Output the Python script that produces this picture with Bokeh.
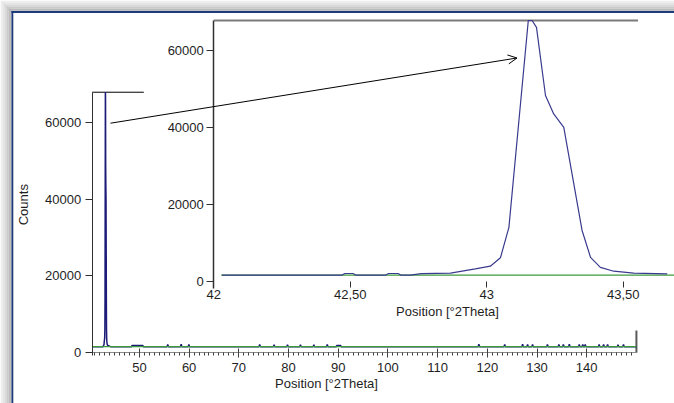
from bokeh.plotting import figure
from bokeh.models import Range1d, LinearAxis, FixedTicker, Label, Arrow, OpenHead
from bokeh.embed import file_html
from bokeh.resources import INLINE

# ---------------- data ----------------
MAIN_POS = [40.5, 42.72, 42.76, 42.87, 42.95, 43.013, 43.05, 43.081, 43.152, 43.166,
            43.182, 43.215, 43.245, 43.282, 43.349, 43.38, 43.416, 43.465, 43.538, 43.66,
            44.2, 48.4, 48.5, 50.7, 50.8,
            55.55, 55.7, 55.85, 58.25, 58.4, 58.55, 59.8, 59.95, 60.1,
            74.05, 74.2, 74.35, 76.95, 77.1, 77.25, 79.65, 79.8, 79.95,
            82.25, 82.4, 82.55, 84.95, 85.1, 85.25, 87.65, 87.8, 87.95,
            89.6, 89.7, 90.5, 90.6,
            118.15, 118.3, 118.45, 123.35, 123.5, 123.65, 126.95, 127.1, 127.25,
            127.95, 128.1, 128.25, 128.95, 129.1, 129.25, 131.95, 132.1, 132.25,
            134.25, 134.4, 134.55, 135.15, 135.3, 135.45, 136.35, 136.5, 136.65,
            138.35, 138.5, 138.65, 139.05, 139.2, 139.35, 139.55, 139.7, 139.85,
            142.35, 142.5, 142.65, 143.25, 143.4, 143.55, 144.05, 144.2, 144.35,
            146.15, 146.3, 146.45, 147.25, 147.4, 147.55, 150.0]
MAIN_COUNTS = [1600, 1600, 1950, 2050, 3200, 3900, 6100, 14000, 67800, 67600,
               66000, 48300, 43500, 40000, 13200, 6200, 3600, 2600, 2100, 1900,
               1600, 1600, 1900, 1900, 1600,
               1600, 2150, 1600, 1600, 2200, 1600, 1600, 2150, 1600,
               1600, 2150, 1600, 1600, 2100, 1600, 1600, 2100, 1600,
               1600, 2100, 1600, 1600, 2100, 1600, 1600, 2150, 1600,
               1600, 1900, 1900, 1600,
               1600, 2200, 1600, 1600, 2150, 1600, 1600, 2200, 1600,
               1600, 2150, 1600, 1600, 2150, 1600, 1600, 2150, 1600,
               1600, 2150, 1600, 1600, 2150, 1600, 1600, 2200, 1600,
               1600, 2150, 1600, 1600, 2150, 1600, 1600, 2150, 1600,
               1600, 2150, 1600, 1600, 2150, 1600, 1600, 2150, 1600,
               1600, 2100, 1600, 1600, 2150, 1600, 1600]

ZOOM_POS = [42.03, 42.47, 42.48, 42.51, 42.52, 42.63, 42.64, 42.675, 42.685,
            42.72, 42.76, 42.867, 42.958, 43.013, 43.05, 43.081, 43.152, 43.166,
            43.182, 43.215, 43.245, 43.282, 43.349, 43.38, 43.416, 43.465, 43.538, 43.661]
ZOOM_COUNTS = [1600, 1600, 2000, 2000, 1600, 1600, 2000, 2000, 1600,
               1600, 1950, 2080, 3200, 3900, 6100, 14000, 67800, 67800,
               66000, 48300, 43500, 40000, 13200, 6200, 3600, 2600, 2100, 1900]

BACKGROUND = 1600
PEAK_MAX = 67800
COUNT_TICKS = [0, 20000, 40000, 60000]
MAIN_TICKS = [50, 60, 70, 80, 90, 100, 110, 120, 130, 140]
MAIN_MINOR = list(range(41, 150))
MAIN_X_LIMITS = (40.5, 150.0)
ZOOM_TICKS = [42, 42.5, 43, 43.5]
ZOOM_TICK_LABELS = ["42", "42,50", "43", "43,50"]
ZOOM_LINE_START = 42.027
ZOOM_FRAME_END = 43.554
X_TITLE = "Position [°2Theta]"
Y_TITLE = "Counts"

# ---------------- layout calibration (pixels of the figure) ----------------
W, H = 674, 403
FONT = "Liberation Sans"
TXT = "#1e1e1e"


def xr(anchor_val, anchor_px, ppu):
    return Range1d(anchor_val - anchor_px / ppu, anchor_val + (W - anchor_px) / ppu)


def yr(anchor_val, anchor_px, ppu):
    return Range1d(anchor_val - (H - anchor_px) / ppu, anchor_val + anchor_px / ppu)


p = figure(width=W, height=H, output_backend="svg", toolbar_location=None,
           x_axis_type=None, y_axis_type=None, title=None,
           x_range=xr(MAIN_X_LIMITS[0], 91.7, 4.97),
           y_range=yr(0, 352.3, 0.0038433))
p.extra_x_ranges = {"ix": xr(42, 213.3, 273.0), "px": Range1d(0, W)}
p.extra_y_ranges = {"iy": yr(0, 280.7, 0.003845), "py": Range1d(H, 0)}
p.min_border = 0
p.min_border_left = p.min_border_right = p.min_border_top = p.min_border_bottom = 0
p.outline_line_color = None
p.background_fill_color = "white"
p.border_fill_color = "white"

# window decoration (shadow gradient + blue window border)
pxr = dict(x_range_name="px", y_range_name="py")
SHADE = ["#eeeeee", "#e4e4e4", "#d8d8d8", "#cacaca", "#bbbbbb"]
for i, c in enumerate(SHADE):
    p.quad(left=[2 * i], right=[W], top=[2 * i], bottom=[2 * i + 2], fill_color=c, line_color=None, **pxr)
    p.quad(left=[2 * i], right=[2 * i + 2], top=[2 * i], bottom=[H], fill_color=c, line_color=None, **pxr)
p.quad(left=[10], right=[W], top=[10], bottom=[11.3], fill_color="#a9a9a9", line_color=None, **pxr)
p.quad(left=[10], right=[11], top=[10], bottom=[H], fill_color="#a9a9a9", line_color=None, **pxr)
p.quad(left=[11], right=[W], top=[10.4], bottom=[12.4], fill_color="#1d3a7a", line_color=None, **pxr)
p.quad(left=[11], right=[12.8], top=[10.4], bottom=[H], fill_color="#1d3a7a", line_color=None, **pxr)

# main chart frame (top and right sides)
p.segment(x0=[MAIN_X_LIMITS[0]], y0=[PEAK_MAX], x1=[MAIN_X_LIMITS[1]], y1=[PEAK_MAX],
          line_color="black", line_width=1)
p.segment(x0=[MAIN_X_LIMITS[1]], y0=[0], x1=[MAIN_X_LIMITS[1]], y1=[PEAK_MAX],
          line_color="#5a5a5a", line_width=2)

# main chart data
p.line(MAIN_POS, MAIN_COUNTS, line_color="#1c1c78", line_width=1.5)
p.line(list(MAIN_X_LIMITS), [BACKGROUND, BACKGROUND], line_color="#3d9a3d", line_width=1.2)

# inset background
p.quad(left=[143.3], right=[W], top=[13], bottom=[330], fill_color="white", line_color=None, **pxr)

ixr = dict(x_range_name="ix", y_range_name="iy")
p.segment(x0=[42], y0=[PEAK_MAX], x1=[ZOOM_FRAME_END], y1=[PEAK_MAX],
          line_color="#7a7a7a", line_width=2, **ixr)
p.line([ZOOM_LINE_START, 43.8], [BACKGROUND, BACKGROUND], line_color="#3d9a3d", line_width=1.2, **ixr)
p.line(ZOOM_POS, ZOOM_COUNTS, line_color="#3a3a8e", line_width=1.2, **ixr)

# axes
common = dict(major_label_text_font=FONT, major_label_text_font_size="13px",
              major_label_text_color=TXT)

ya = LinearAxis(fixed_location=MAIN_X_LIMITS[0], ticker=FixedTicker(ticks=COUNT_TICKS),
                bounds=(-700, PEAK_MAX), major_tick_in=0, major_tick_out=7,
                minor_tick_in=0, minor_tick_out=0, major_label_standoff=4,
                axis_line_color="#303030", major_tick_line_color="#303030", **common)
p.add_layout(ya, "left")

xa = LinearAxis(fixed_location=0, ticker=FixedTicker(ticks=MAIN_TICKS, minor_ticks=MAIN_MINOR),
                bounds=MAIN_X_LIMITS, major_tick_in=4, major_tick_out=5,
                minor_tick_in=0, minor_tick_out=3, major_label_standoff=5,
                axis_line_color="#8a8a8a", major_tick_line_color="#404040",
                minor_tick_line_color="#404040", **common)
p.add_layout(xa, "below")

iya = LinearAxis(x_range_name="ix", y_range_name="iy", fixed_location=42,
                 ticker=FixedTicker(ticks=COUNT_TICKS), bounds=(-2000, PEAK_MAX),
                 major_tick_in=0, major_tick_out=7, minor_tick_in=0, minor_tick_out=0,
                 major_label_standoff=3, axis_line_color="#303030", axis_line_width=1.5,
                 major_tick_line_color="#303030", **common)
p.add_layout(iya, "left")

ixa = LinearAxis(x_range_name="ix", y_range_name="iy", fixed_location=0,
                 ticker=FixedTicker(ticks=ZOOM_TICKS),
                 major_label_overrides={float(t): s for t, s in zip(ZOOM_TICKS, ZOOM_TICK_LABELS)},
                 major_tick_in=0, major_tick_out=6, minor_tick_in=0, minor_tick_out=0,
                 major_label_standoff=3, axis_line_color=None,
                 major_tick_line_color="#303030", **common)
p.add_layout(ixa, "below")

# titles
lab = dict(text_font=FONT, text_font_size="13px", text_color=TXT,
           text_align="center", text_baseline="middle", **pxr)
p.add_layout(Label(x=23.3, y=204.2, text=Y_TITLE, angle=90, angle_units="deg", **lab))
p.add_layout(Label(x=326, y=383.3, text=X_TITLE, **lab))
p.add_layout(Label(x=447, y=310.7, text=X_TITLE, **lab))

# arrow from the main peak to the zoom
p.add_layout(Arrow(x_start=110, y_start=122.7, x_end=516.5, y_end=57.5,
                   line_color="black", line_width=1,
                   end=OpenHead(size=9, line_width=1, line_color="black"), **pxr))

open("out.html", "w").write(file_html(p, INLINE))
